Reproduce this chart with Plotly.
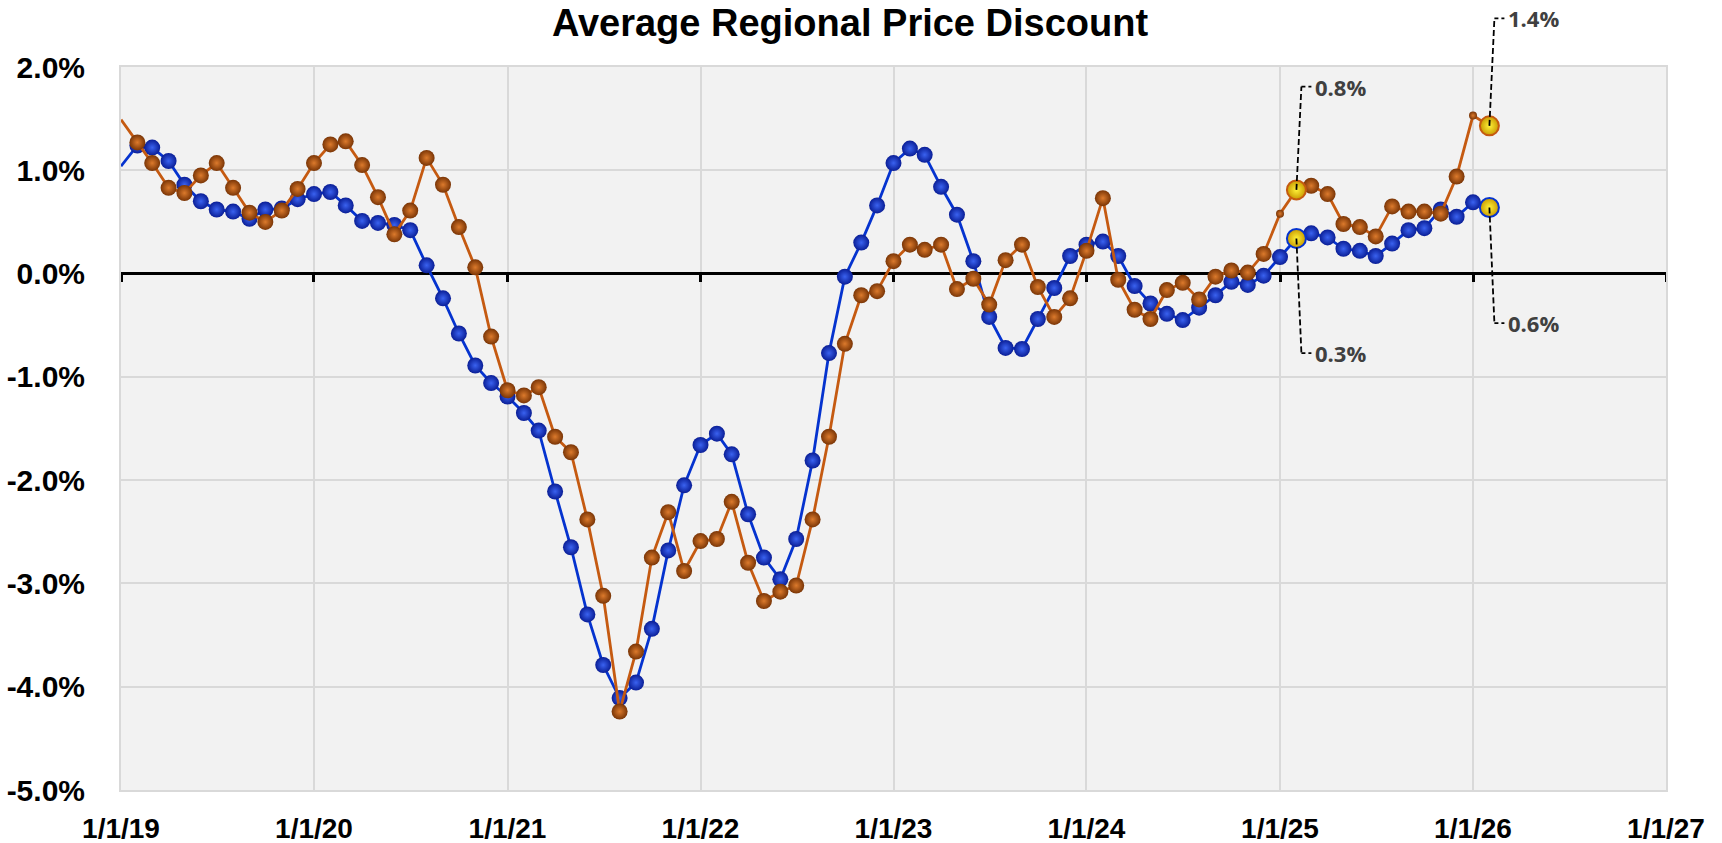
import pandas as pd
import plotly.graph_objects as go

# ---------------- data ----------------
months = pd.date_range("2019-01-01", "2026-02-01", freq="MS")

blue_series = [
    1.04, 1.24, 1.22, 1.09, 0.86, 0.70, 0.62, 0.60, 0.53, 0.62, 0.63, 0.72,      # 2019
    0.77, 0.79, 0.66, 0.51, 0.49, 0.47, 0.42, 0.08, -0.24, -0.58, -0.89, -1.06,  # 2020
    -1.19, -1.35, -1.52, -2.11, -2.65, -3.30, -3.79, -4.11, -3.96, -3.44, -2.68, -2.05,  # 2021
    -1.66, -1.55, -1.75, -2.33, -2.75, -2.96, -2.57, -1.81, -0.77, -0.03, 0.30, 0.66,    # 2022
    1.07, 1.21, 1.15, 0.84, 0.57, 0.12, -0.42, -0.72, -0.73, -0.44, -0.14, 0.17,  # 2023
    0.28, 0.31, 0.17, -0.12, -0.29, -0.39, -0.45, -0.33, -0.21, -0.08, -0.11, -0.02,  # 2024
    0.16, 0.34, 0.39, 0.35, 0.24, 0.22, 0.17, 0.29, 0.42, 0.44, 0.62, 0.55,      # 2025
    0.69, 0.64,                                                                   # 2026
]

orange_series = [
    1.49, 1.27, 1.07, 0.83, 0.78, 0.95, 1.07, 0.83, 0.59, 0.50, 0.61, 0.82,      # 2019
    1.07, 1.25, 1.28, 1.05, 0.74, 0.38, 0.61, 1.12, 0.86, 0.45, 0.06, -0.61,     # 2020
    -1.13, -1.18, -1.10, -1.58, -1.73, -2.38, -3.12, -4.24, -3.66, -2.75, -2.31, -2.88,  # 2021
    -2.59, -2.57, -2.21, -2.80, -3.17, -3.08, -3.02, -2.38, -1.58, -0.68, -0.21, -0.17,  # 2022
    0.12, 0.28, 0.23, 0.28, -0.15, -0.05, -0.30, 0.13, 0.28, -0.13, -0.42, -0.24,  # 2023
    0.22, 0.73, -0.06, -0.35, -0.44, -0.16, -0.09, -0.25, -0.03, 0.03, 0.01, 0.19,  # 2024
    0.58, 0.81, 0.85, 0.77, 0.48, 0.45, 0.36, 0.65, 0.60, 0.60, 0.58, 0.94,      # 2025
    1.53, 1.43,                                                                   # 2026
]

highlight_dates = ["2025-02-01", "2026-02-01"]
small_orange_dates = ["2025-01-01", "2026-01-01"]

y_ticks = [-5, -4, -3, -2, -1, 0, 1, 2]
y_tick_labels = [f"{v:.1f}%" for v in y_ticks]
x_ticks = pd.date_range("2019-01-01", "2027-01-01", freq="YS")
x_tick_labels = ["1/1/19", "1/1/20", "1/1/21", "1/1/22", "1/1/23", "1/1/24", "1/1/25", "1/1/26", "1/1/27"]

title_text = "Average Regional Price Discount"

# ---------------- styling ----------------
Y_MIN, Y_MAX = -5, 2
X_MIN, X_MAX = "2019-01-01", "2027-01-01"
BLUE_LINE = "#0533cf"
BLUE_MARK = "#0a1e96"
BLUE_HI = "#3a62f0"
ORANGE_LINE = "#c55a11"
ORANGE_MARK = "#7a3506"
ORANGE_HI = "#dc7a2c"
GRID = "#d9d9d9"
FONT = "Liberation Sans, Arial, sans-serif"

W, H = 1722, 843

month_str = [d.strftime("%Y-%m-%d") for d in months]
# first point sits on the left axis edge: its marker is not shown
blue_sizes = [0] + [16] * (len(months) - 1)
orange_sizes = [0] + [8 if d in small_orange_dates else 16 for d in month_str[1:]]

fig = go.Figure()

# invisible trace so the zero-line tick axis renders
fig.add_trace(go.Scatter(x=[months[0]], y=[None], xaxis="x2", yaxis="y",
                         mode="markers", showlegend=False, hoverinfo="skip"))

fig.add_trace(go.Scatter(
    x=months, y=blue_series, mode="lines+markers", name="Blue",
    line=dict(color=BLUE_LINE, width=2.8),
    marker=dict(size=blue_sizes, color=BLUE_MARK, opacity=1,
                gradient=dict(type="radial", color=BLUE_HI), line=dict(width=0)),
    showlegend=False,
))
fig.add_trace(go.Scatter(
    x=months, y=orange_series, mode="lines+markers", name="Orange",
    line=dict(color=ORANGE_LINE, width=2.8),
    marker=dict(size=orange_sizes, color=ORANGE_MARK, opacity=1,
                gradient=dict(type="radial", color=ORANGE_HI), line=dict(width=0)),
    showlegend=False,
))

# highlighted (yellow) points with dashed elbow leaders
label_specs = [
    # (series, date, label level in data units, rim colour)
    (orange_series, highlight_dates[0], 1.81, ORANGE_LINE),
    (blue_series, highlight_dates[0], -0.77, BLUE_LINE),
    (orange_series, highlight_dates[1], 2.47, ORANGE_LINE),
    (blue_series, highlight_dates[1], -0.48, BLUE_LINE),
]

def to_paper(v):
    return (v - Y_MIN) / (Y_MAX - Y_MIN)

for series, d, level, rim in label_specs:
    idx = month_str.index(d)
    val = series[idx]
    fig.add_trace(go.Scatter(
        x=[months[idx]], y=[val], mode="markers", showlegend=False,
        marker=dict(size=19, color="#c99a00", opacity=1,
                    gradient=dict(type="radial", color="#fff23a"),
                    line=dict(color=rim, width=2)),
    ))
    # vertical dashed leader (slightly slanted)
    fig.add_shape(type="line", xref="x", yref="paper", xsizemode="pixel",
                  xanchor=months[idx], x0=0, x1=5,
                  y0=to_paper(val), y1=to_paper(level),
                  line=dict(color="black", width=1.8, dash="6px,3px"), layer="above")
    # short horizontal dashed segment
    fig.add_shape(type="line", xref="x", yref="paper", xsizemode="pixel",
                  xanchor=months[idx], x0=5, x1=15,
                  y0=to_paper(level), y1=to_paper(level),
                  line=dict(color="black", width=1.8, dash="4px,3px"), layer="above")
    fig.add_annotation(x=months[idx], xref="x", y=to_paper(level), yref="paper",
                       text=f"{val:.1f}%", showarrow=False, xanchor="left", yanchor="middle",
                       xshift=17,
                       font=dict(family="Open Sans, sans-serif", size=22, color="#404040",
                                 weight="bold"))

fig.update_layout(
    width=W, height=H,
    margin=dict(l=121, r=56, t=67, b=53, autoexpand=False),
    paper_bgcolor="white",
    plot_bgcolor="#f2f2f2",
    title=dict(text=title_text, x=850 / W, xref="container", xanchor="center",
               y=1 - 23 / H, yref="container", yanchor="middle",
               font=dict(family=FONT, size=38, color="black", weight="bold")),
    xaxis=dict(type="date", range=[X_MIN, X_MAX], tickvals=x_ticks, ticktext=x_tick_labels,
               showgrid=True, gridcolor=GRID, gridwidth=1.5, automargin=False,
               showline=True, linecolor=GRID, linewidth=2, mirror=True,
               ticks="", ticklabelstandoff=12,
               tickfont=dict(family=FONT, size=28, color="black", weight="bold")),
    xaxis2=dict(type="date", range=[X_MIN, X_MAX], tickvals=x_ticks, overlaying="x",
                anchor="free", position=to_paper(0), side="bottom", automargin=False,
                showgrid=False, zeroline=False, showline=False, showticklabels=False,
                ticks="outside", ticklen=7, tickwidth=2.5, tickcolor="black",
                layer="below traces"),
    yaxis=dict(range=[Y_MIN, Y_MAX], tickvals=y_ticks, ticktext=y_tick_labels,
               showgrid=True, gridcolor=GRID, gridwidth=1.5, automargin=False,
               zeroline=True, zerolinecolor="black", zerolinewidth=3,
               showline=True, linecolor=GRID, linewidth=2, mirror=True,
               ticks="", ticklabelstandoff=28,
               tickfont=dict(family=FONT, size=30, color="black", weight="bold")),
    showlegend=False,
)

# remove the browser's default 8px page margin so the figure fills the window exactly
fig.write_html("out.html", config={"displayModeBar": False},
               post_script="document.body.style.margin='0px';document.body.style.overflow='hidden';")
